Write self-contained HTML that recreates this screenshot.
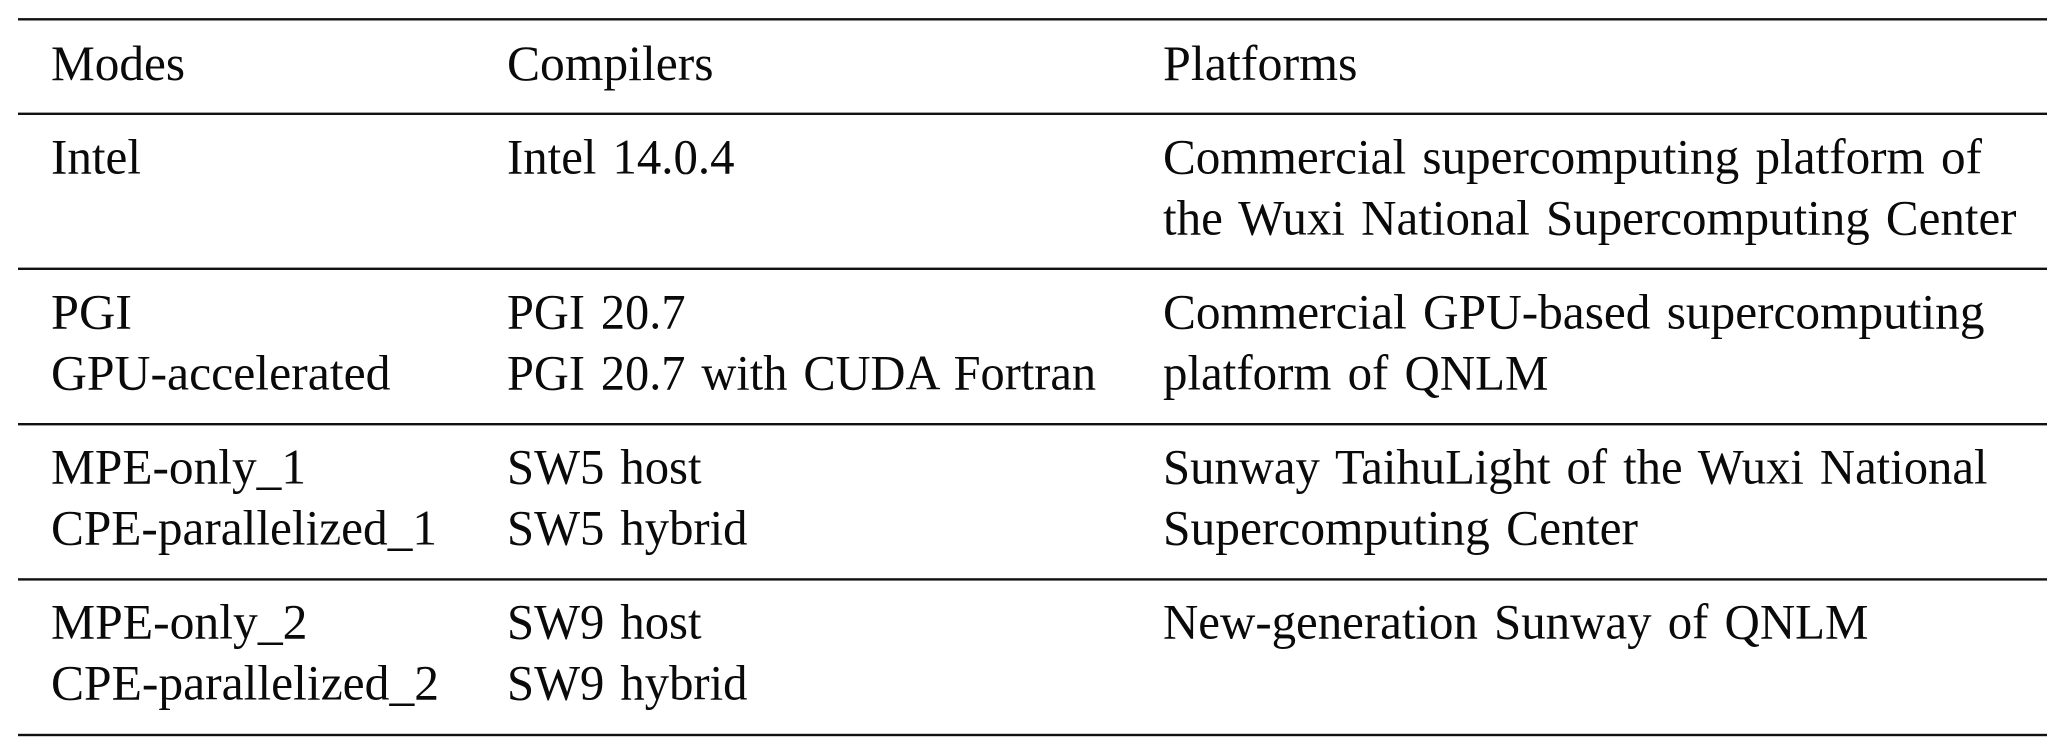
<!DOCTYPE html>
<html><head><meta charset="utf-8"><style>
html,body{margin:0;padding:0;background:#fff}
svg{display:block}
text{font-family:"Liberation Serif","Times New Roman",serif;font-size:50.2px;fill:#0a0a0a;word-spacing:4px}
</style></head><body>
<svg width="2067" height="754" viewBox="0 0 2067 754" xmlns="http://www.w3.org/2000/svg">
<rect width="2067" height="754" fill="#fff"/>
<g fill="#111">
<rect x="18" y="18.1" width="2029" height="2.4"/>
<rect x="18" y="112.6" width="2029" height="2.4"/>
<rect x="18" y="267.6" width="2029" height="2.4"/>
<rect x="18" y="423" width="2029" height="2.4"/>
<rect x="18" y="578.2" width="2029" height="2.4"/>
<rect x="18" y="733.8" width="2029" height="2.4"/>
</g>
<g>
<text lengthAdjust="spacingAndGlyphs" x="51" y="80" textLength="134">Modes</text><text lengthAdjust="spacingAndGlyphs" x="507" y="80" textLength="206.5">Compilers</text><text lengthAdjust="spacingAndGlyphs" x="1163" y="80" textLength="194.5">Platforms</text>
<text lengthAdjust="spacingAndGlyphs" x="51" y="173.3" textLength="90">Intel</text><text lengthAdjust="spacingAndGlyphs" x="507" y="173.3" textLength="227.5">Intel 14.0.4</text>
<text lengthAdjust="spacingAndGlyphs" x="1163" y="173.3" textLength="819">Commercial supercomputing platform of</text>
<text lengthAdjust="spacingAndGlyphs" x="1163" y="234.3" textLength="853.5">the Wuxi National Supercomputing Center</text>
<text lengthAdjust="spacingAndGlyphs" x="51" y="328.3" textLength="81">PGI</text><text lengthAdjust="spacingAndGlyphs" x="507" y="328.3" textLength="178.5">PGI 20.7</text>
<text lengthAdjust="spacingAndGlyphs" x="1163" y="328.3" textLength="821.5">Commercial GPU-based supercomputing</text>
<text lengthAdjust="spacingAndGlyphs" x="51" y="389.3" textLength="339.5">GPU-accelerated</text><text lengthAdjust="spacingAndGlyphs" x="507" y="389.3" textLength="589">PGI 20.7 with CUDA Fortran</text>
<text lengthAdjust="spacingAndGlyphs" x="1163" y="389.3" textLength="385.5">platform of QNLM</text>
<text lengthAdjust="spacingAndGlyphs" x="51" y="483.3" textLength="255">MPE-only_1</text><text lengthAdjust="spacingAndGlyphs" x="507" y="483.3" textLength="194.5">SW5 host</text>
<text lengthAdjust="spacingAndGlyphs" x="1163" y="483.3" textLength="824.5">Sunway TaihuLight of the Wuxi National</text>
<text lengthAdjust="spacingAndGlyphs" x="51" y="544.3" textLength="386">CPE-parallelized_1</text><text lengthAdjust="spacingAndGlyphs" x="507" y="544.3" textLength="240.5">SW5 hybrid</text>
<text lengthAdjust="spacingAndGlyphs" x="1163" y="544.3" textLength="475">Supercomputing Center</text>
<text lengthAdjust="spacingAndGlyphs" x="51" y="638.3" textLength="256.5">MPE-only_2</text><text lengthAdjust="spacingAndGlyphs" x="507" y="638.3" textLength="194.5">SW9 host</text>
<text lengthAdjust="spacingAndGlyphs" x="1163" y="638.3" textLength="705.5">New-generation Sunway of QNLM</text>
<text lengthAdjust="spacingAndGlyphs" x="51" y="699.3" textLength="388">CPE-parallelized_2</text><text lengthAdjust="spacingAndGlyphs" x="507" y="699.3" textLength="240.5">SW9 hybrid</text>
</g>
</svg>
</body></html>
